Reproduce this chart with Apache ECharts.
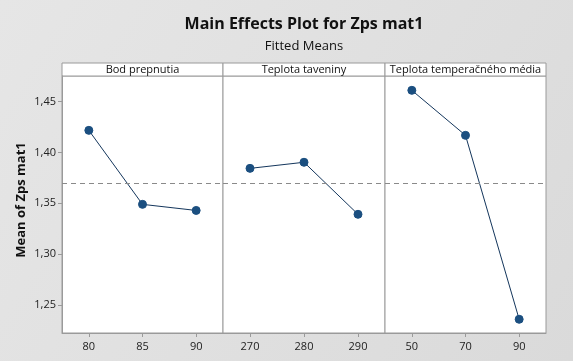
<!DOCTYPE html>
<html>
<head>
<meta charset="utf-8">
<script src="https://cdn.jsdelivr.net/npm/echarts@6/dist/echarts.min.js"></script>
<style>html,body{margin:0;padding:0;}#c{width:573px;height:361px;}</style>
</head>
<body>
<div id="c"></div>
<script>
const panelTitles = ['Bod prepnutia', 'Teplota taveniny', 'Teplota temperačného média'];
const catsBod = ['80', '85', '90'];
const catsTav = ['270', '280', '290'];
const catsMed = ['50', '70', '90'];
const valsBod = [1.4218, 1.3490, 1.3430];
const valsTav = [1.3844, 1.3904, 1.3392];
const valsMed = [1.4612, 1.4169, 1.2359];
const overallMean = 1.3713;
const yTicks = [1.25, 1.30, 1.35, 1.40, 1.45];

(function () {
const cats = [catsBod, catsTav, catsMed];
const vals = [valsBod, valsTav, valsMed];
const FONT = '"Open Sans", "Noto Sans", sans-serif';
const lefts = [62, 223, 385];
const widths = [161, 162, 161];
const gTop = 76, gHeight = 257;
const yMin = 1.2224, yMax = 1.4753;
const borderCol = '#9a9a9a';

const grids = [], xAxes = [], yAxes = [], series = [], graphics = [];
for (let i = 0; i < 3; i++) {
  grids.push({left: lefts[i], top: gTop, width: widths[i], height: gHeight, show: true,
    borderColor: borderCol, borderWidth: 1, backgroundColor: '#ffffff'});
  xAxes.push({type: 'category', gridIndex: i, data: cats[i], boundaryGap: true,
    axisLine: {show: true, lineStyle: {color: borderCol}},
    axisTick: {show: true, alignWithLabel: true, length: 4, lineStyle: {color: borderCol}},
    axisLabel: {color: '#222', fontFamily: FONT, fontSize: 11, margin: 8},
    splitLine: {show: false}});
  yAxes.push({type: 'value', gridIndex: i, min: yMin, max: yMax,
    axisLine: {show: i === 0, lineStyle: {color: borderCol}},
    axisTick: {show: i === 0, length: 4, customValues: yTicks, lineStyle: {color: borderCol}},
    axisLabel: {show: i === 0, customValues: yTicks, color: '#222', fontFamily: FONT, fontSize: 11, margin: 6,
      formatter: v => v.toFixed(2).replace('.', ',')},
    splitLine: {show: false}});
  series.push({type: 'line', xAxisIndex: i, yAxisIndex: i, data: vals[i],
    symbol: 'circle', symbolSize: 8,
    itemStyle: {color: '#1b4f80', borderColor: '#1b4f80'},
    lineStyle: {color: '#14365c', width: 1},
    markLine: {silent: true, symbol: 'none', label: {show: false},
      lineStyle: {color: '#8a8a8a', type: [5, 4], width: 1},
      data: [{yAxis: overallMean}]},
    z: 3});
  graphics.push({type: 'rect', shape: {x: lefts[i], y: 63, width: widths[i], height: 13},
    style: {fill: '#ffffff', stroke: borderCol, lineWidth: 1}});
  graphics.push({type: 'text', x: lefts[i] + widths[i] / 2, y: 69.5,
    style: {text: panelTitles[i], fill: '#111', font: '11px ' + FONT, align: 'center', verticalAlign: 'middle'}});
}

graphics.push({type: 'text', x: 304, y: 24,
  style: {text: 'Main Effects Plot for Zps mat1', fill: '#111', font: 'bold 16px ' + FONT, align: 'center', verticalAlign: 'middle'}});
graphics.push({type: 'text', x: 304, y: 46,
  style: {text: 'Fitted Means', fill: '#111', font: '13px ' + FONT, align: 'center', verticalAlign: 'middle'}});
graphics.push({type: 'text', x: 21, y: 200, rotation: Math.PI / 2,
  style: {text: 'Mean of Zps mat1', fill: '#111', font: 'bold 13px ' + FONT, align: 'center', verticalAlign: 'middle'}});

const chart = echarts.init(document.getElementById('c'));
chart.setOption({
  animation: false,
  backgroundColor: {type: 'linear', x: 0, y: 0, x2: 1, y2: 1,
    colorStops: [{offset: 0, color: '#e6e6e6'}, {offset: 1, color: '#dadada'}]},
  grid: grids, xAxis: xAxes, yAxis: yAxes, series: series, graphic: graphics
});
})();
</script>
</body>
</html>
